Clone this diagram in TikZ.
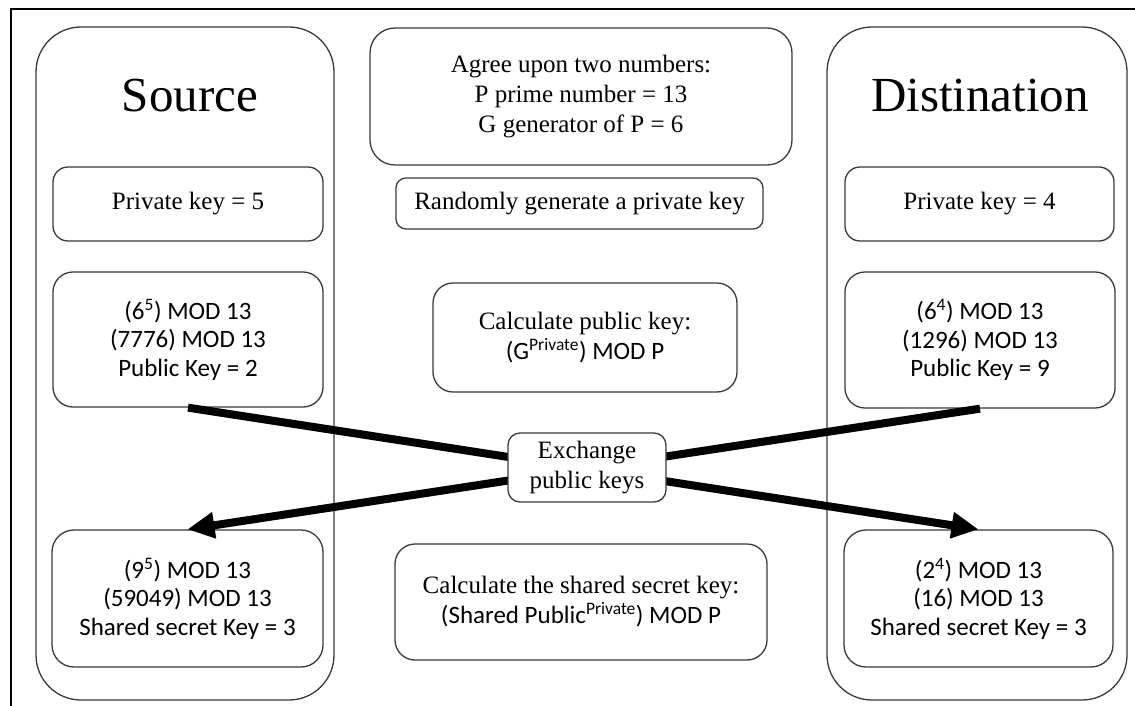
\documentclass[tikz,border=0pt]{standalone}
\usepackage{fontspec}
\setmainfont{Liberation Serif}
\newfontfamily\calib{Carlito}
\usetikzlibrary{arrows.meta}
\definecolor{edge}{HTML}{3A3A3A}
\tikzset{
  panel/.style={draw=edge, line width=1.3pt, rounded corners=#1, inner sep=0pt, fill=white},
  panel/.default=20pt,
  serif/.style={font=\fontsize{25}{30}\selectfont, align=center},
  sans/.style={font=\calib\fontsize{25}{28.5}\selectfont, align=center},
  title/.style={font=\fontsize{49}{55}\selectfont, anchor=base},
  swap/.style={line width=8pt, -{Triangle[length=27pt,width=25pt]}}
}
\newcommand{\sq}[1]{\textsuperscript{#1}}
\begin{document}
\begin{tikzpicture}[x=1pt,y=-1pt]
\useasboundingbox (0,0) rectangle (1135,706);
% page frame (top and left rules)
\draw[line width=1.4pt, black] (1135,9) -- (11,9) -- (11,706);

% the two parties
\draw[panel=45pt] (36,27) rectangle (334,700);
\draw[panel=45pt] (827,27) rectangle (1127,700);
\node[title] (srctitle) at (190,112) {Source};
\node[title] (dsttitle) at (980,112) {Distination};

% source column
\node[panel=15pt, minimum width=270pt, minimum height=74pt, serif] (priv5) at (188,204) {Private key = 5};
\node[panel, minimum width=270pt, minimum height=135pt, sans] (pub5) at (188,339.5)
  {(6\sq{5}) MOD 13\\(7776) MOD 13\\Public Key = 2};
\node[panel=22pt, minimum width=271pt, minimum height=137pt, sans] (sec5) at (187.5,598.5)
  {(9\sq{5}) MOD 13\\(59049) MOD 13\\Shared secret Key = 3};

% destination column
\node[panel=15pt, minimum width=269pt, minimum height=74pt, serif] (priv4) at (979.5,204) {Private key = 4};
\node[panel, minimum width=270pt, minimum height=136pt, sans] (pub4) at (980,340)
  {(6\sq{4}) MOD 13\\(1296) MOD 13\\Public Key = 9};
\node[panel=22pt, minimum width=269pt, minimum height=137pt, sans] (sec4) at (978.5,598.5)
  {(2\sq{4}) MOD 13\\(16) MOD 13\\Shared secret Key = 3};

% shared steps in the middle
\node[panel=25pt, minimum width=422pt, minimum height=137pt, serif] (agree) at (581,96.5)
  {Agree upon two numbers:\\P prime number = 13\\G generator of P = 6};
\node[panel=10pt, minimum width=367pt, minimum height=51pt, serif] (random) at (579.5,203.5)
  {Randomly generate a private key};
\node[panel, minimum width=304pt, minimum height=109pt, serif] (calcpub) at (585,337.5)
  {Calculate public key:\\{\calib (G\sq{Private}) MOD P}};
\node[panel, minimum width=372pt, minimum height=116pt, serif] (calcsec) at (581,602)
  {Calculate the shared secret key:\\{\calib (Shared Public\sq{Private}) MOD P}};

% public keys cross over
\draw[swap] (pub5.south) -- (sec4.north);
\draw[swap] (pub4.south) -- (sec5.north);
\node[panel=12pt, minimum width=158pt, minimum height=69pt, serif] (exch) at (587,467.5)
  {Exchange\\public keys};
\end{tikzpicture}
\end{document}
